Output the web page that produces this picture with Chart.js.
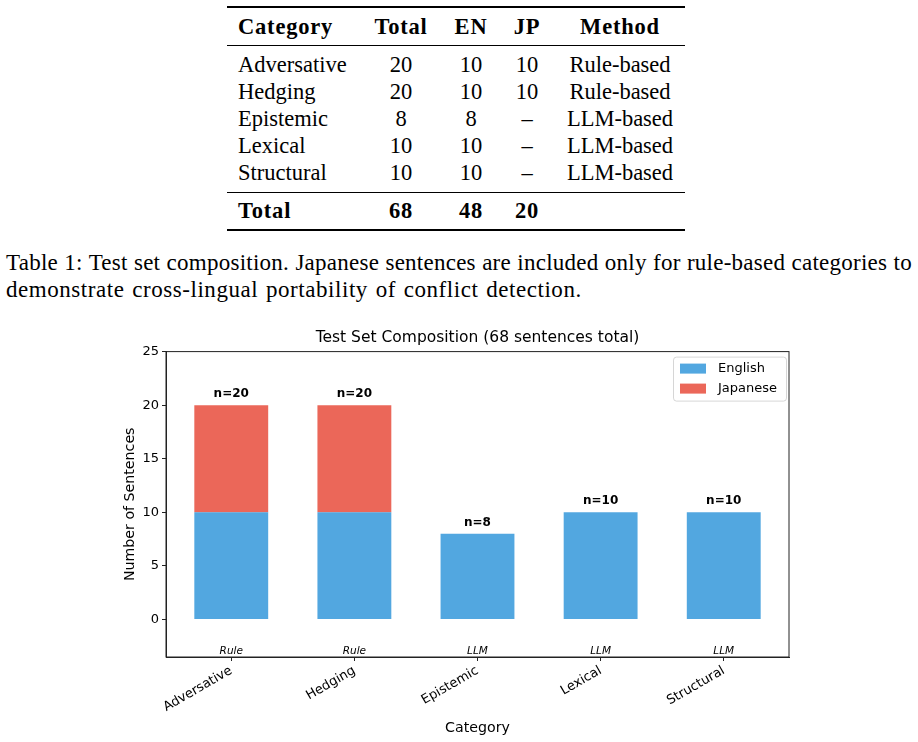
<!DOCTYPE html>
<html>
<head>
<meta charset="utf-8">
<script src="https://cdn.jsdelivr.net/npm/chart.js@4.4.0/dist/chart.umd.min.js"></script>
<style>
  html, body { margin: 0; padding: 0; background: #fff; }
  body { width: 918px; height: 742px; position: relative; overflow: hidden;
         font-family: "Liberation Serif", serif; color: #000; }
  .rule { position: absolute; left: 227px; width: 458px; background: #000; }
  .cell { position: absolute; font-size: 22.5px; line-height: 28px; white-space: nowrap; }
  .cell.c { transform: translateX(-50%); }
  .b { font-weight: bold; letter-spacing: 0.8px; }
  .cap { position: absolute; left: 6px; width: 906px; font-size: 23px; line-height: 28px; white-space: nowrap; }
  .cap.j { text-align: justify; text-align-last: justify; letter-spacing: 0.25px; }
  .cap.l { letter-spacing: 0.55px; word-spacing: 1.5px; }
  #wrap { position: absolute; left: 0; top: 320px; width: 918px; height: 422px; }
</style>
</head>
<body>
<div id="table"></div>
<div class="cap j" style="top:249px">Table 1: Test set composition. Japanese sentences are included only for rule-based categories to</div>
<div class="cap l" style="top:276px">demonstrate cross-lingual portability of conflict detection.</div>
<div id="wrap"><canvas id="chart" width="918" height="422"></canvas></div>

<script>
// data
const categories = ["Adversative", "Hedging", "Epistemic", "Lexical", "Structural"];
const englishCounts = [10, 10, 8, 10, 10];
const japaneseCounts = [10, 10, 0, 0, 0];
const methodNames = ["Rule-based", "Rule-based", "LLM-based", "LLM-based", "LLM-based"];
const methodTags = ["Rule", "Rule", "LLM", "LLM", "LLM"];
const yTicks = [0, 5, 10, 15, 20, 25];

const totals = categories.map((c, i) => englishCounts[i] + japaneseCounts[i]);
const sum = a => a.reduce((s, v) => s + v, 0);

// --- table (booktabs style) ---
const tbl = document.getElementById("table");
const colX = [238, 401, 471, 527, 620];

function rule(top, h) {
  const d = document.createElement("div");
  d.className = "rule";
  d.style.top = top + "px";
  d.style.height = h + "px";
  tbl.appendChild(d);
}

function row(cells, yc, bold) {
  cells.forEach((txt, k) => {
    const d = document.createElement("div");
    d.className = "cell" + (k > 0 ? " c" : "") + (bold ? " b" : "");
    d.textContent = txt;
    d.style.left = colX[k] + "px";
    d.style.top = (yc - 14) + "px";
    tbl.appendChild(d);
  });
}

rule(6, 2.2);
row(["Category", "Total", "EN", "JP", "Method"], 27, true);
rule(45, 1.2);
categories.forEach((c, i) => {
  row([c, String(totals[i]), String(englishCounts[i]),
       japaneseCounts[i] ? String(japaneseCounts[i]) : "\u2013", methodNames[i]], 65 + i * 27);
});
rule(191.5, 1.2);
row(["Total", String(sum(totals)), String(sum(englishCounts)), String(sum(japaneseCounts)), ""], 211, true);
rule(229, 2.2);

// --- chart ---
Chart.defaults.font.family = "'DejaVu Sans', sans-serif";
Chart.defaults.color = "#000";

const blue = "rgba(52, 152, 219, 0.85)";
const red = "rgba(231, 76, 60, 0.85)";
const axisColor = "#222";

const extras = {
  id: "extras",
  afterDatasetsDraw(chart) {
    const { ctx, chartArea: a, scales: { x, y } } = chart;
    ctx.save();

    // full box
    ctx.strokeStyle = axisColor;
    ctx.lineWidth = 1;
    ctx.strokeRect(a.left, a.top, a.right - a.left, a.bottom - a.top);

    // totals above bars
    ctx.fillStyle = "#000";
    ctx.textAlign = "center";
    ctx.textBaseline = "bottom";
    ctx.font = "bold 12px 'DejaVu Sans'";
    totals.forEach((t, i) => {
      ctx.fillText("n=" + t, x.getPixelForValue(i), y.getPixelForValue(t + 0.5));
    });

    // method tags under bars
    ctx.textBaseline = "middle";
    ctx.font = "italic 10.5px 'DejaVu Sans'";
    methodTags.forEach((m, i) => {
      ctx.fillText(m, x.getPixelForValue(i), y.getPixelForValue(-3));
    });

    // legend inside, upper right
    const fx = a.right - 116, fy = a.top + 5, fw = 113, fh = 44;
    ctx.beginPath();
    ctx.roundRect(fx + 0.5, fy + 0.5, fw, fh, 3);
    ctx.fillStyle = "rgba(255,255,255,0.8)";
    ctx.fill();
    ctx.strokeStyle = "rgba(204,204,204,0.8)";
    ctx.stroke();
    ctx.font = "13px 'DejaVu Sans'";
    ctx.textAlign = "left";
    chart.data.datasets.forEach((ds, k) => {
      const cy = fy + 12 + k * 20;
      ctx.fillStyle = ds.backgroundColor;
      ctx.fillRect(fx + 7, cy - 5, 26, 10);
      ctx.fillStyle = "#000";
      ctx.fillText(ds.label, fx + 45, cy);
    });
    ctx.restore();
  }
};

new Chart(document.getElementById("chart"), {
  type: "bar",
  data: {
    datasets: [
      {
        label: "English",
        data: englishCounts.map((v, i) => ({ x: i, y: v })),
        backgroundColor: blue,
        borderWidth: 0,
      },
      {
        label: "Japanese",
        data: japaneseCounts.map((v, i) => ({ x: i, y: v })),
        backgroundColor: red,
        borderWidth: 0,
      },
    ],
  },
  options: {
    responsive: false,
    animation: false,
    layout: { padding: { left: 0, right: 129, top: 0, bottom: 0 } },
    datasets: { bar: { categoryPercentage: 1, barPercentage: 0.6 } },
    plugins: {
      legend: { display: false },
      tooltip: { enabled: false },
      title: {
        display: true,
        fullSize: false,
        text: "Test Set Composition (68 sentences total)",
        font: { size: 15.5, weight: "normal" },
        padding: { top: 9, bottom: 4 },
      },
    },
    scales: {
      x: {
        type: "linear",
        stacked: true,
        offset: false,
        min: -0.53,
        max: 4.53,
        afterBuildTicks: (s) => { s.ticks = categories.map((c, i) => ({ value: i })); },
        afterFit: (s) => { s.height = 85; },
        ticks: {
          autoSkip: false,
          minRotation: 30,
          maxRotation: 30,
          padding: 2,
          font: { size: 13 },
          callback: (v) => categories[v],
        },
        grid: { offset: false, drawOnChartArea: false, drawTicks: true, tickLength: 4, tickColor: axisColor },
        border: { display: true, color: axisColor },
        title: { display: true, text: "Category", font: { size: 14.2 }, padding: { top: 0, bottom: 5.5 } },
      },
      y: {
        stacked: true,
        min: -3.5,
        max: 25,
        afterBuildTicks: (s) => { s.ticks = yTicks.map((v) => ({ value: v })); },
        afterFit: (s) => { s.width = 166; },
        ticks: { padding: 3, font: { size: 13 } },
        grid: { drawOnChartArea: false, drawTicks: true, tickLength: 4, tickColor: axisColor },
        border: { display: true, color: axisColor },
        title: { display: true, text: "Number of Sentences", font: { size: 14.2 }, padding: { top: 121.5, bottom: 0 } },
      },
    },
  },
  plugins: [extras],
});
</script>
</body>
</html>
